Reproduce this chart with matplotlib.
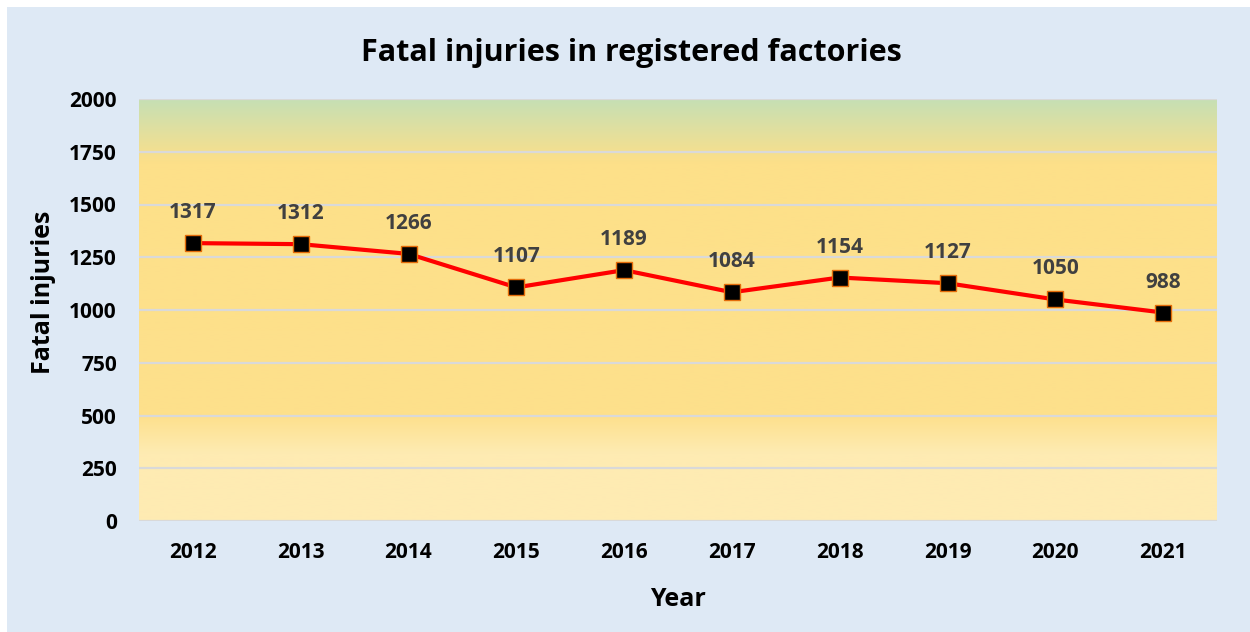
import numpy as np
import matplotlib.pyplot as plt
from matplotlib.colors import LinearSegmentedColormap
from matplotlib.patches import Rectangle

years = ["2012", "2013", "2014", "2015", "2016", "2017", "2018", "2019", "2020", "2021"]
fatal_injuries = [1317, 1312, 1266, 1107, 1189, 1084, 1154, 1127, 1050, 988]
y_ticks = [0, 250, 500, 750, 1000, 1250, 1500, 1750, 2000]

plt.rcParams['font.family'] = ['Open Sans', 'DejaVu Sans']
plt.rcParams['font.weight'] = 'bold'

fig = plt.figure(figsize=(12.5, 6.32), dpi=100, facecolor='white')
# fundo azul claro do gráfico (margem branca em cima e à esquerda)
fig.patches.append(Rectangle((7 / 1250, 0), 1 - 7 / 1250, 1 - 7 / 632,
                             transform=fig.transFigure, facecolor='#dee9f5',
                             edgecolor='none', zorder=-10))

ax = fig.add_axes([139 / 1250, 1 - 521 / 632, 1078 / 1250, 422 / 632])
ax.set_facecolor('none')

# Gradiente do fundo da área de plotagem (topo verde -> amarelo -> claro)
grad_cmap = LinearSegmentedColormap.from_list('bg', [
    (0.0, '#c6dfb4'),
    (0.15, '#fde089'),
    (0.75, '#fde08c'),
    (0.84, '#feebb2'),
    (1.0, '#feebb3'),
])
grad = np.linspace(0, 1, 256).reshape(-1, 1)
ax.imshow(grad, cmap=grad_cmap, aspect='auto', extent=[0, 1, 0, 1],
          transform=ax.transAxes, zorder=0, interpolation='bilinear')

x = np.arange(len(years))
ax.set_xlim(-0.5, len(years) - 0.5)
ax.set_ylim(0, 2000)
ax.set_yticks(y_ticks)
ax.set_xticks(x)
ax.set_xticklabels(years)

for yv in y_ticks:
    ax.axhline(yv, color='#d9d9d9', lw=1.6, zorder=1)

ax.plot(x, fatal_injuries, color='#ff0000', lw=3, zorder=3,
        marker='s', markersize=11, markerfacecolor='black',
        markeredgecolor='#e46c0a', markeredgewidth=1)

for xi, v in zip(x, fatal_injuries):
    ax.annotate(str(v), (xi, v), xytext=(0, 18), textcoords='offset points',
                ha='center', va='baseline', fontsize=15, fontweight='bold',
                color='#404040', zorder=4)

for s in ax.spines.values():
    s.set_visible(False)
ax.tick_params(axis='both', length=0, labelsize=15, colors='black')
ax.tick_params(axis='x', pad=15)
ax.tick_params(axis='y', pad=16)
for lbl in ax.get_xticklabels() + ax.get_yticklabels():
    lbl.set_fontweight('bold')

fig.text(631 / 1250, 1 - 53 / 632, "Fatal injuries in registered factories",
         ha='center', va='center', fontsize=22, fontweight='bold')
fig.text(678 / 1250, 1 - 599 / 632, "Year", ha='center', va='center',
         fontsize=18, fontweight='bold')
fig.text(44 / 1250, 1 - 292 / 632, "Fatal injuries", ha='center', va='center',
         rotation=90, fontsize=18, fontweight='bold')

fig.savefig("out.png", dpi=100, facecolor=fig.get_facecolor())
